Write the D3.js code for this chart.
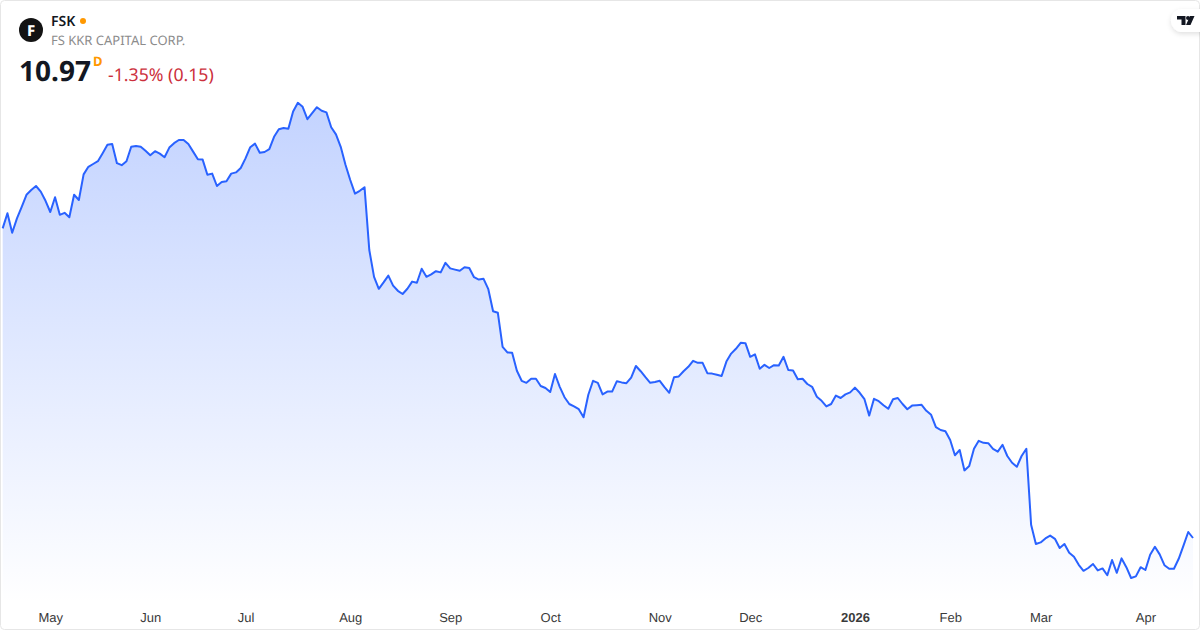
<!DOCTYPE html>
<html lang="en">
<head>
  <meta charset="UTF-8">
  <title>FSK</title>
  <style>
    body { margin: 0; background: #fff; overflow: hidden; }
    svg { display: block; font-family: "Noto Sans", sans-serif; text-rendering: geometricPrecision; }
    .tick text { font-size: 13px; fill: #3a3a3a; }
  </style>
</head>
<body>
  <svg width="1200" height="630"></svg>
  <script src="https://d3js.org/d3.v7.min.js"></script>
  <script>
    // daily closes
    const closes = [
      18.71,19.09,18.60,18.96,19.25,19.55,19.67,19.77,19.63,19.40,
      19.12,19.49,19.05,19.10,18.99,19.55,19.42,20.06,20.25,20.32,
      20.39,20.59,20.80,20.82,20.34,20.29,20.39,20.75,20.77,20.75,
      20.65,20.54,20.64,20.58,20.49,20.73,20.84,20.92,20.92,20.82,
      20.63,20.44,20.43,20.05,20.08,19.77,19.87,19.89,20.08,20.11,
      20.22,20.46,20.74,20.83,20.60,20.62,20.69,21.00,21.19,21.22,
      21.20,21.63,21.85,21.75,21.44,21.59,21.74,21.65,21.61,21.24,
      21.06,20.75,20.30,19.92,19.58,19.65,19.74,18.17,17.50,17.20,
      17.36,17.53,17.28,17.15,17.07,17.20,17.38,17.35,17.70,17.50,
      17.56,17.64,17.61,17.85,17.71,17.68,17.65,17.74,17.72,17.49,
      17.43,17.45,17.19,16.64,16.60,15.75,15.61,15.60,15.15,14.90,
      14.85,14.95,14.95,14.77,14.72,14.62,15.07,14.75,14.49,14.32,
      14.26,14.19,13.99,14.55,14.90,14.85,14.56,14.63,14.63,14.89,
      14.86,14.84,14.98,15.27,15.14,14.99,14.85,14.87,14.90,14.74,
      14.60,14.99,15.01,15.14,15.25,15.40,15.35,15.35,15.09,15.08,
      15.05,15.02,15.38,15.58,15.70,15.85,15.84,15.50,15.56,15.20,
      15.30,15.22,15.29,15.28,15.50,15.17,15.16,14.94,14.95,14.82,
      14.75,14.50,14.40,14.26,14.32,14.53,14.47,14.56,14.61,14.73,
      14.60,14.44,14.03,14.45,14.39,14.29,14.20,14.44,14.47,14.32,
      14.19,14.28,14.29,14.30,14.15,14.05,13.74,13.67,13.64,13.42,
      13.04,13.17,12.66,12.77,13.20,13.40,13.35,13.34,13.20,13.13,
      13.30,13.02,12.85,12.75,13.02,13.20,11.30,10.82,10.86,10.96,
      11.03,10.95,10.72,10.82,10.60,10.50,10.30,10.15,10.22,10.32,
      10.16,10.21,10.04,10.42,10.10,10.46,10.24,9.97,10.01,10.24,
      10.17,10.55,10.75,10.56,10.29,10.20,10.20,10.45,10.78,11.12,
      10.97
    ];
    const tickLabels = ["May","Jun","Jul","Aug","Sep","Oct","Nov","Dec","2026","Feb","Mar","Apr"];
    const tickIndex = [10,31,51,73,94,115,138,157,179,199,218,240];

    const svg = d3.select("svg");

    const x = d3.scaleLinear().domain([0, closes.length - 1]).range([2.67, 1193]);
    const y = d3.scaleLinear().domain([9.42, 21.92]).range([600, 100]);
    const bottom = 604;

    const defs = svg.append("defs");
    const grad = defs.append("linearGradient")
      .attr("id", "areaFill")
      .attr("gradientUnits", "userSpaceOnUse")
      .attr("x1", 0).attr("x2", 0)
      .attr("y1", y(d3.max(closes))).attr("y2", bottom);
    grad.append("stop").attr("offset", 0).attr("stop-color", "#2962ff").attr("stop-opacity", 0.28);
    grad.append("stop").attr("offset", 1).attr("stop-color", "#2962ff").attr("stop-opacity", 0);

    const area = d3.area().x((d, i) => x(i)).y0(bottom).y1(d => y(d));
    const line = d3.line().x((d, i) => x(i)).y(d => y(d));

    svg.append("path").datum(closes).attr("d", area).attr("fill", "url(#areaFill)");
    svg.append("path").datum(closes).attr("d", line)
      .attr("fill", "none").attr("stroke", "#2962ff").attr("stroke-width", 2)
      .attr("stroke-linejoin", "round");

    // time axis
    const axis = d3.axisBottom(x).tickValues(tickIndex)
      .tickSize(0).tickFormat((d, i) => tickLabels[i]);
    const axisG = svg.append("g").attr("transform", "translate(0,609)").call(axis);
    axisG.select(".domain").remove();
    axisG.selectAll("text").attr("y", 3.5).attr("dy", "0.71em").style("font-family", "inherit")
      .attr("font-weight", (d, i) => tickLabels[i] === "2026" ? 700 : 400);

    // frame
    svg.append("rect").attr("x", 0.5).attr("y", 0.5).attr("width", 1199).attr("height", 629)
      .attr("rx", 4).attr("fill", "none").attr("stroke", "#e6e6e6");

    // header
    svg.append("circle").attr("cx", 31).attr("cy", 30).attr("r", 12).attr("fill", "#131313");
    svg.append("text").attr("x", 31).attr("y", 35.5).attr("text-anchor", "middle")
      .attr("font-size", 15).attr("font-weight", 800).attr("fill", "#fff").text("F");
    svg.append("text").attr("x", 51).attr("y", 26).attr("font-size", 14).attr("font-weight", 600)
      .attr("fill", "#131722").text("FSK");
    svg.append("circle").attr("cx", 83).attr("cy", 21).attr("r", 3).attr("fill", "#ff9800");
    svg.append("text").attr("x", 51).attr("y", 45).attr("font-size", 13)
      .attr("fill", "#8c8c8c").text("FS KKR CAPITAL CORP.");
    svg.append("text").attr("x", 19).attr("y", 81).attr("font-size", 28).attr("font-weight", 700)
      .attr("fill", "#131722").text("10.97");
    svg.append("text").attr("x", 93).attr("y", 66).attr("font-size", 13).attr("font-weight", 700)
      .attr("fill", "#ff9800").text("D");
    svg.append("text").attr("x", 108).attr("y", 81).attr("font-size", 17.7)
      .attr("fill", "#cc2f3c").text("-1.35% (0.15)");

    // logo badge
    const shadow = defs.append("filter").attr("id", "badgeShadow")
      .attr("x", "-30%").attr("y", "-30%").attr("width", "160%").attr("height", "180%");
    shadow.append("feDropShadow").attr("dx", 0).attr("dy", 2).attr("stdDeviation", 2.5)
      .attr("flood-color", "#000").attr("flood-opacity", 0.12);
    svg.append("rect").attr("x", 1171).attr("y", 9).attr("width", 50).attr("height", 23)
      .attr("rx", 11.5).attr("fill", "#fff").attr("filter", "url(#badgeShadow)");
    svg.append("path").attr("fill", "#131722")
      .attr("d", "M1177 16h8.5v9h-4v-5.5h-4.5zM1190 16h4.5l-4 9h-4.5z");
    svg.append("circle").attr("cx", 1188).attr("cy", 18).attr("r", 2).attr("fill", "#131722");
  </script>
</body>
</html>
